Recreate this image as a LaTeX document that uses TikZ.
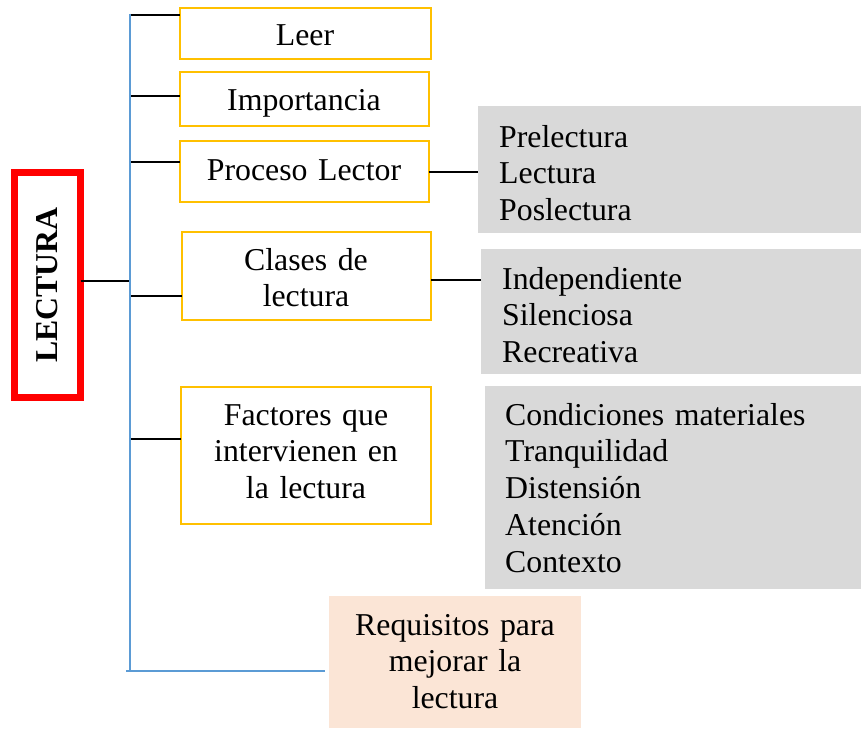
\documentclass[tikz,border=0pt]{standalone}
\usepackage{fontspec}
\setmainfont{Liberation Serif}
\definecolor{yel}{HTML}{FFC000}
\definecolor{blu}{HTML}{5B9BD5}
\definecolor{gry}{HTML}{D9D9D9}
\definecolor{pch}{HTML}{FBE5D6}
\definecolor{rd}{HTML}{FF0000}
\begin{document}
\begin{tikzpicture}[x=1pt,y=-1pt,
  ybox/.style={draw=yel, line width=2pt, inner sep=0pt, outer sep=0pt},
  gbox/.style={fill=gry, inner sep=0pt, outer sep=0pt},
  pbox/.style={fill=pch, inner sep=0pt, outer sep=0pt},
  blk/.style={black, line width=2pt},
  trunkline/.style={draw=blu, line width=2pt},
  ctext/.style={font=\fontsize{31.8}{36.8}\selectfont, text width=260pt, align=center, inner sep=0pt, anchor=base},
  ltext/.style={font=\fontsize{31.8}{36.8}\selectfont, text width=360pt, align=left, inner sep=0pt, anchor=base west}]
\useasboundingbox (0,0) rectangle (861,728);
\fill[white] (0,0) rectangle (861,728);

% boxes
\node[ybox, minimum width=250.5pt, minimum height=51pt] (leer) at (305.25,33.5) {};
\node[ybox, minimum width=248.5pt, minimum height=54pt] (imp) at (304.25,99) {};
\node[ybox, minimum width=248.5pt, minimum height=60.4pt] (proc) at (304.25,171.5) {};
\node[ybox, minimum width=248.7pt, minimum height=87.4pt] (clases) at (306.65,276) {};
\node[ybox, minimum width=250pt, minimum height=137pt] (fact) at (306,455.5) {};
\node[pbox, minimum width=252pt, minimum height=132pt] (req) at (455,662) {};
\node[gbox, minimum width=383pt, minimum height=127pt] (g1) at (669.5,169.5) {};
\node[gbox, minimum width=380pt, minimum height=125pt] (g2) at (671,311.5) {};
\node[gbox, minimum width=376pt, minimum height=203pt] (g3) at (673,487.5) {};
\node[draw=rd, line width=7pt, inner sep=0pt, outer sep=0pt, minimum width=66pt, minimum height=225pt,
      font=\fontsize{31.8}{36.8}\selectfont\bfseries] (lectura) at (47.5,285) {\rotatebox{90}{LECTURA}};

% texts
\node[ctext] (tleer) at (305,45) {Leer};
\node[ctext] (timp) at (304,110) {Importancia};
\node[ctext] (tproc) at (304,180) {Proceso Lector};
\node[ctext] (tclases) at (306,270) {Clases de\\lectura};
\node[ctext] (tfact) at (306,425) {Factores que\\intervienen en\\la lectura};
\node[ctext] (treq) at (455,635) {Requisitos para\\mejorar la\\lectura};
\node[ltext] (tg1) at (499,147) {Prelectura\\Lectura\\Poslectura};
\node[ltext] (tg2) at (502,289) {Independiente\\Silenciosa\\Recreativa};
\node[ltext] (tg3) at (505,425) {Condiciones materiales\\Tranquilidad\\Distensión\\Atención\\Contexto};

% ticks
\coordinate (c1) at (130,15);
\coordinate (c2) at (130,96);
\coordinate (c3) at (130,162.3);
\coordinate (c4) at (130,295.7);
\coordinate (c5) at (130,439);
\coordinate (lc) at (130,281);
\draw[blk] (c1) -- (c1 -| leer.west);
\draw[blk] (c2) -- (c2 -| imp.west);
\draw[blk] (c3) -- (c3 -| proc.west);
\draw[blk] (c4) -- (c4 -| clases.west);
\draw[blk] (c5) -- (c5 -| fact.west);
\draw[black, line width=1.6pt] (lc -| lectura.east) -- (lc);

% trunk
\coordinate (ttop) at (130,13.5);
\coordinate (tbot) at (130,671);
\coordinate (bl) at (126,671);
\draw[trunkline] (ttop) -- (tbot);
\draw[trunkline] (bl) -- ([xshift=-4pt]bl -| req.west);

% right connectors
\draw[blk] (proc.east) -- (proc.east -| g1.west);
\draw[blk] ([yshift=-4.3pt]clases.east) -- ([yshift=-4.3pt]clases.east -| g2.west);
\end{tikzpicture}
\end{document}
